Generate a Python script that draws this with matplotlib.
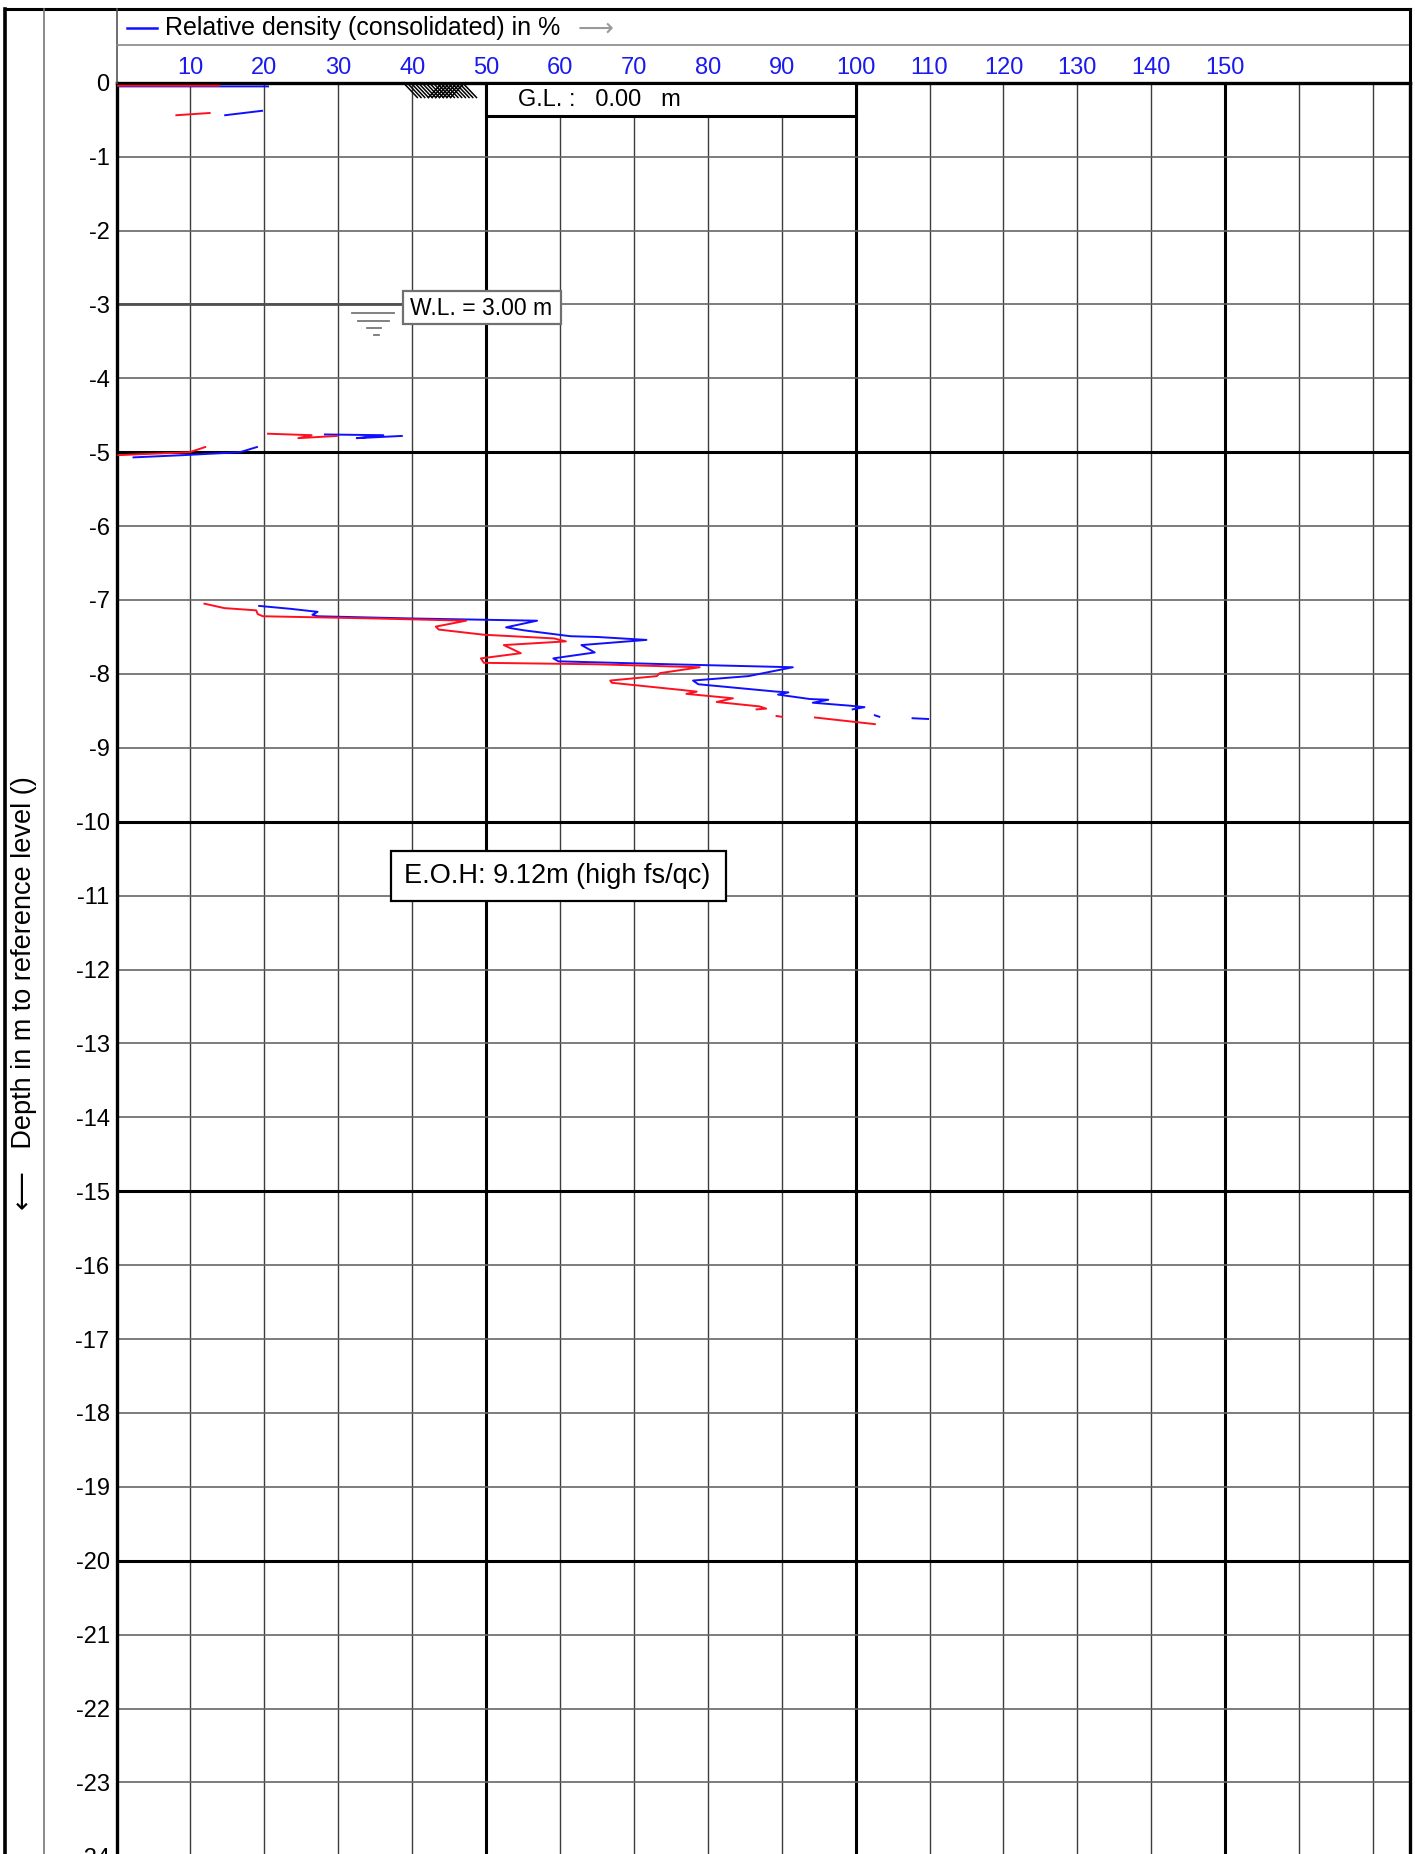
import numpy as np
import matplotlib
matplotlib.use("Agg")
import matplotlib.pyplot as plt
from matplotlib.patches import Rectangle
from matplotlib.lines import Line2D

plt.rcParams['font.family'] = ['Liberation Sans', 'DejaVu Sans']

# ---------------- data ----------------
x_ticks = [10, 20, 30, 40, 50, 60, 70, 80, 90, 100, 110, 120, 130, 140, 150]
x_tick_labels = [str(v) for v in x_ticks]
depth_ticks = list(range(0, -25, -1))
depth_tick_labels = [str(v) for v in depth_ticks]

nan = np.nan
# Relative density (blue) - segments separated by NaN
blue_dr = [0.5, 20.5, nan,
           14.7, 19.7, nan,
           2.3, 9.0, 16.7, 19.0, nan,
           28.2, 36.1, 32.5, 38.6, nan,
           19.3, 23.6, 27.2, 26.5, 27.2, 40.0, 56.9, 52.7, 55.1, 61.4, 65.0, 71.7,
           62.9, 64.7, 59.1, 59.8, 75.0, 91.5, 85.5, 78.0, 78.7, 89.3, 90.9, 89.5,
           93.8, 96.3, 94.2, 99.2, 101.2, 99.6, nan,
           102.6, 103.2, nan,
           107.7, 109.8]
blue_depth = [-0.05, -0.05, nan,
              -0.44, -0.38, nan,
              -5.07, -5.04, -5.00, -4.93, nan,
              -4.76, -4.77, -4.81, -4.78, nan,
              -7.08, -7.12, -7.16, -7.20, -7.22, -7.25, -7.28, -7.37, -7.41, -7.49, -7.50, -7.54,
              -7.61, -7.71, -7.79, -7.83, -7.87, -7.91, -8.03, -8.09, -8.14, -8.24, -8.25, -8.28,
              -8.34, -8.35, -8.39, -8.43, -8.45, -8.48, nan,
              -8.56, -8.58, nan,
              -8.60, -8.61]

# second series (red)
red_dr = [0.0, 13.9, nan,
          8.1, 12.6, nan,
          0.25, 9.9, 12.0, nan,
          20.5, 26.4, 24.6, 29.8, nan,
          11.9, 14.6, 18.9, 19.1, 19.8, 35.0, 47.3, 43.2, 43.6, 49.7, 59.2, 60.8,
          52.4, 54.7, 49.3, 49.7, 65.0, 78.9, 73.5, 73.1, 66.8, 67.0, 76.7, 78.5,
          77.1, 83.4, 81.2, 87.0, 87.9, 86.6, nan,
          89.3, 90.0, nan,
          94.5, 102.6]
red_depth = [-0.04, -0.04, nan,
             -0.44, -0.41, nan,
             -5.04, -5.00, -4.93, nan,
             -4.75, -4.77, -4.81, -4.78, nan,
             -7.05, -7.11, -7.14, -7.19, -7.22, -7.25, -7.28, -7.36, -7.40, -7.47, -7.52, -7.56,
             -7.61, -7.72, -7.79, -7.85, -7.87, -7.91, -7.99, -8.03, -8.09, -8.12, -8.22, -8.24,
             -8.27, -8.33, -8.38, -8.44, -8.47, -8.48, nan,
             -8.57, -8.58, nan,
             -8.59, -8.68]

water_level = -3.0
eoh_text = "E.O.H: 9.12m (high fs/qc)"
wl_text = "W.L. = 3.00 m"
gl_text = "G.L. :   0.00   m"
legend_text = "Relative density (consolidated) in %"
ylabel_text = "\u27f5   Depth in m to reference level ()"

# ---------------- figure ----------------
W, H = 1415, 1854
fig = plt.figure(figsize=(W / 100, H / 100), dpi=100)


def fx(x):
    return x / W


def fy(y):
    return 1 - y / H


ax_l, ax_r, ax_t = 116.5, 1410.0, 82.7
ppm = 73.9
ax_b = ax_t + 24 * ppm
ax = fig.add_axes([fx(ax_l), fy(ax_b), (ax_r - ax_l) / W, (ax_b - ax_t) / H])
ax.set_xlim(0, 175)
ax.set_ylim(-24, 0)

# grid
for v in range(10, 175, 10):
    if v % 50 == 0:
        ax.axvline(v, color='black', lw=2.2, zorder=1)
    else:
        ax.axvline(v, color='#3c3c3c', lw=1.0, zorder=1)
for d in range(-1, -24, -1):
    if d % 5 == 0:
        ax.axhline(d, color='black', lw=2.2, zorder=1)
    else:
        ax.axhline(d, color='#666666', lw=1.2, zorder=1)

for s in ['left', 'top', 'right']:
    ax.spines[s].set_linewidth(2.4)
    ax.spines[s].set_color('black')
ax.spines['bottom'].set_visible(False)

ax.xaxis.tick_top()
ax.set_xticks(x_ticks)
ax.set_xticklabels(x_tick_labels, color='#1a1aee', fontsize=17)
ax.tick_params(axis='x', length=0, pad=3)
ax.set_yticks(depth_ticks)
ax.set_yticklabels(depth_tick_labels, fontsize=17)
ax.tick_params(axis='y', length=0, pad=5)

# data curves
ax.plot(blue_dr, blue_depth, color='#1010ff', lw=1.4, zorder=3)
ax.plot(red_dr, red_depth, color='#ff1020', lw=1.4, zorder=3.1)

# water level line and symbol
ax.plot([0, 38.7], [water_level, water_level], color='#505050', lw=2.0, zorder=2)
wl_sym_x0 = [31.9, 32.7, 33.9, 34.8]
wl_sym_x1 = [37.6, 36.9, 35.8, 35.5]
wl_sym_y = [-3.11, -3.22, -3.32, -3.41]
for a, b, yy in zip(wl_sym_x0, wl_sym_x1, wl_sym_y):
    ax.plot([a, b], [yy, yy], color='#777777', lw=1.3, zorder=2)
ax.add_patch(Rectangle((38.7, -3.27), 21.5, 0.45, facecolor='white',
                       edgecolor='#707070', lw=1.6, zorder=4))
ax.text(39.7, -3.05, wl_text, fontsize=16.5, va='center', ha='left', zorder=5)

# ground level hatch symbol
for x0 in np.arange(38.9, 47.2, 0.5):
    ax.plot([x0, x0 + 1.8], [-0.01, -0.2], color='black', lw=1.1, zorder=3)
for x0 in np.arange(42.2, 45.6, 0.5):
    ax.plot([x0, x0 + 1.8], [-0.2, -0.01], color='black', lw=1.1, zorder=3)

# G.L. box
ax.add_patch(Rectangle((50, -0.45), 50, 0.45, facecolor='white',
                       edgecolor='black', lw=2.2, zorder=4))
ax.text(54.3, -0.24, gl_text, fontsize=17, va='center', ha='left', zorder=5)

# E.O.H box
ax.add_patch(Rectangle((37.1, -11.07), 45.4, 0.67, facecolor='white',
                       edgecolor='black', lw=1.6, zorder=4))
ax.text(59.6, -10.73, eoh_text, fontsize=19.5, va='center', ha='center', zorder=5)

# ---------------- frame / header ----------------
def fline(x0, y0, x1, y1, **kw):
    fig.add_artist(Line2D([fx(x0), fx(x1)], [fy(y0), fy(y1)], **kw))


fline(5, 9, 1410, 9, color='black', lw=2.2)
fline(5, 9, 5, H, color='black', lw=2.6)
fline(44, 9, 44, H, color='#777777', lw=1.2)
fline(ax_l, 9, ax_l, ax_t, color='#555555', lw=1.2)
fline(ax_l, 45, 1410, 45, color='#888888', lw=1.2)
fline(1410, 9, 1410, ax_t, color='black', lw=2.2)

# legend
fline(127, 28, 157, 28, color='#1010ff', lw=1.8)
fig.text(fx(165), fy(28), legend_text, fontsize=18, va='center', ha='left')
fig.text(fx(578), fy(29), "\u27f6", fontsize=18, va='center', ha='left',
         color='#999999', family=['DejaVu Sans'])

# y label
fig.text(fx(24), fy(993), ylabel_text, rotation=90, fontsize=19.5,
         va='center', ha='center')

fig.savefig("out.png", dpi=100)
